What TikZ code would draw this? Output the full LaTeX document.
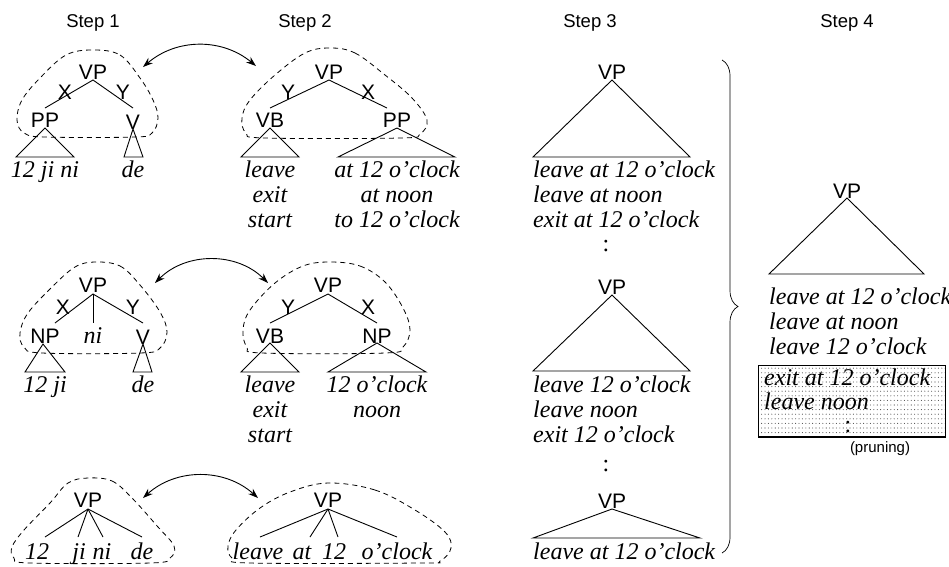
\documentclass[tikz,border=0pt]{standalone}
\usepackage{fontspec}
\setmainfont{Liberation Serif}
\setsansfont{Liberation Sans}
\usetikzlibrary{arrows.meta,decorations.pathreplacing,patterns}

% sparse dot screen for the pruned block
\pgfdeclarepatternformonly{prunedots}{\pgfpoint{-1pt}{-1pt}}{\pgfpoint{1pt}{1pt}}{\pgfpoint{3.4pt}{4.6pt}}{%
  \pgfpathcircle{\pgfpoint{0pt}{0pt}}{0.55pt}\pgfusepath{fill}}

\begin{document}
\begin{tikzpicture}[x=1pt,y=-1pt,
  cat/.style={font=\sffamily\fontsize{21}{21}\selectfont, inner sep=0pt},
  head/.style={font=\sffamily\fontsize{18.5}{19}\selectfont, inner sep=0pt},
  wd/.style={font=\itshape\fontsize{24}{25}\selectfont, inner sep=0pt, anchor=base},
  wdl/.style={wd, anchor=base west},
  dotsym/.style={font=\fontsize{24}{25}\selectfont, inner sep=0pt},
  edge/.style={line width=0.9pt},
  blob/.style={line width=0.8pt, dash pattern=on 5pt off 4pt},
  swap/.style={line width=0.9pt, {Stealth[length=10pt,width=7pt]}-{Stealth[length=10pt,width=7pt]}},
]
\useasboundingbox (0,0) rectangle (949,566);

% column headings
\node[head] (h1) at (93,23) {Step 1};
\node[head] (h2) at (305,23) {Step 2};
\node[head] (h3) at (590,23) {Step 3};
\node[head] (h4) at (847,23) {Step 4};

% ---------------- row 1, step 1 ----------------
\node[cat] (a1vp) at (93,72) {VP};
\node[cat] (a1x) at (65,92) {X};
\node[cat] (a1y) at (123,92) {Y};
\node[cat] (a1pp) at (45,120) {PP};
\node[cat] (a1v) at (133,122) {V};
\coordinate (a1t) at (93,80);
\coordinate (a1l) at (45,108);
\coordinate (a1r) at (133,108);
\draw[edge] (a1l) -- (a1t) -- (a1r);
\draw[edge] (45,128) -- (16,157) -- (74,157) -- cycle;
\draw[edge] (133,129) -- (124,157) -- (143,157) -- cycle;
\node[wd] (a1w1) at (45,177) {12 ji ni};
\node[wd] (a1w2) at (133,177) {de};
\draw[blob] plot[smooth cycle, tension=0.6] coordinates {(93,50) (120,55) (140,78) (153,100) (158,118) (152,133) (135,137) (45,137) (24,133) (17,120) (22,100) (40,78) (66,55)};

% ---------------- row 1, step 2 ----------------
\node[cat] (b1vp) at (329,72) {VP};
\node[cat] (b1y) at (288,92) {Y};
\node[cat] (b1x) at (368,92) {X};
\node[cat] (b1vb) at (270,120) {VB};
\node[cat] (b1pp) at (397,120) {PP};
\coordinate (b1t) at (329,80);
\coordinate (b1l) at (270,108);
\coordinate (b1r) at (387,108);
\draw[edge] (b1l) -- (b1t) -- (b1r);
\draw[edge] (270,128) -- (241,157) -- (299,157) -- cycle;
\draw[edge] (397,128) -- (338,157) -- (455,157) -- cycle;
\node[wd] (b1w1) at (270,177) {leave};
\node[wd] (b1w2) at (270,202) {exit};
\node[wd] (b1w3) at (270,227) {start};
\node[wd] (b1w4) at (397,177) {at 12 o’clock};
\node[wd] (b1w5) at (397,202) {at noon};
\node[wd] (b1w6) at (397,227) {to 12 o’clock};
\draw[blob] plot[smooth cycle, tension=0.6] coordinates {(330,48) (355,53) (385,75) (412,98) (427,120) (420,134) (400,138) (265,138) (246,133) (242,118) (250,100) (275,75) (305,53)};

\coordinate (s1l) at (143,67);
\coordinate (s1r) at (256,66);
\draw[swap] (s1l) to[bend left=40] (s1r);

% ---------------- row 2, step 1 ----------------
\node[cat] (a2vp) at (93,285) {VP};
\node[cat] (a2x) at (63,307) {X};
\node[cat] (a2y) at (133,307) {Y};
\node[cat] (a2np) at (45,336) {NP};
\node[wd] (a2ni) at (93,343) {ni};
\node[cat] (a2v) at (143,337) {V};
\coordinate (a2t) at (93,294);
\coordinate (a2l) at (55,323);
\coordinate (a2m) at (93,323);
\coordinate (a2r) at (143,323);
\draw[edge] (a2l) -- (a2t) -- (a2r);
\draw[edge] (a2t) -- (a2m);
\draw[edge] (43,344) -- (25,372) -- (65,372) -- cycle;
\draw[edge] (143,344) -- (133,372) -- (152,372) -- cycle;
\node[wd] (a2w1) at (45,392) {12 ji};
\node[wd] (a2w2) at (143,392) {de};
\draw[blob] plot[smooth cycle, tension=0.6] coordinates {(95,262) (120,266) (140,285) (160,312) (167,332) (160,348) (140,353) (42,353) (24,347) (20,333) (28,313) (52,287) (75,267)};

% ---------------- row 2, step 2 ----------------
\node[cat] (b2vp) at (328,285) {VP};
\node[cat] (b2y) at (288,307) {Y};
\node[cat] (b2x) at (368,307) {X};
\node[cat] (b2vb) at (270,336) {VB};
\node[cat] (b2np) at (377,336) {NP};
\coordinate (b2t) at (328,294);
\coordinate (b2l) at (270,323);
\coordinate (b2r) at (377,323);
\draw[edge] (b2l) -- (b2t) -- (b2r);
\draw[edge] (270,343) -- (241,372) -- (299,372) -- cycle;
\draw[edge] (377,343) -- (328,372) -- (426,372) -- cycle;
\node[wd] (b2w1) at (270,392) {leave};
\node[wd] (b2w2) at (270,417) {exit};
\node[wd] (b2w3) at (270,442) {start};
\node[wd] (b2w4) at (377,392) {12 o’clock};
\node[wd] (b2w5) at (377,417) {noon};
\draw[blob] plot[smooth cycle, tension=0.6] coordinates {(330,262) (360,266) (385,282) (403,308) (410,330) (403,347) (385,353) (262,353) (247,347) (243,330) (250,310) (275,283) (303,266)};

\coordinate (s2l) at (155,283);
\coordinate (s2r) at (268,283);
\draw[swap] (s2l) to[bend left=45] (s2r);

% ---------------- row 3, step 1 ----------------
\node[cat] (a3vp) at (88,500) {VP};
\coordinate (a3t) at (88,509);
\node[wd] (a3w1) at (37,559) {12};
\node[wd] (a3w2) at (79,559) {ji};
\node[wd] (a3w3) at (102,559) {ni};
\node[wd] (a3w4) at (142,559) {de};
\draw[edge] (a3t) -- (45,537);
\draw[edge] (a3t) -- (78,537);
\draw[edge] (a3t) -- (103,537);
\draw[edge] (a3t) -- (142,537);
\draw[blob] plot[smooth cycle, tension=0.6] coordinates {(88,478) (112,481) (132,498) (158,527) (174,546) (170,558) (150,563) (30,563) (14,558) (12,547) (24,530) (50,503) (68,483)};

% ---------------- row 3, step 2 ----------------
\node[cat] (b3vp) at (328,500) {VP};
\coordinate (b3t) at (328,509);
\node[wd] (b3w1) at (258,559) {leave};
\node[wd] (b3w2) at (302,559) {at};
\node[wd] (b3w3) at (334,559) {12};
\node[wd] (b3w4) at (397,559) {o’clock};
\draw[edge] (b3t) -- (260,537);
\draw[edge] (b3t) -- (310,537);
\draw[edge] (b3t) -- (338,537);
\draw[edge] (b3t) -- (397,537);
\draw[blob] plot[smooth cycle, tension=0.6] coordinates {(328,483) (375,490) (415,510) (445,532) (451,548) (440,561) (420,563) (250,563) (232,558) (228,546) (236,530) (260,508) (290,492)};

\coordinate (s3l) at (143,498);
\coordinate (s3r) at (258,498);
\draw[swap] (s3l) to[bend left=42] (s3r);

% ---------------- step 3 ----------------
\node[cat] (c1vp) at (612,72) {VP};
\draw[edge] (612,80) -- (533,157) -- (690,157) -- cycle;
\node[wdl] (c1w1) at (533,177) {leave at 12 o’clock};
\node[wdl] (c1w2) at (533,202) {leave at noon};
\node[wdl] (c1w3) at (533,227) {exit at 12 o’clock};
\node[dotsym] (c1d) at (606,246) {:};

\node[cat] (c2vp) at (612,287) {VP};
\draw[edge] (612,295) -- (533,371) -- (690,371) -- cycle;
\node[wdl] (c2w1) at (533,392) {leave 12 o’clock};
\node[wdl] (c2w2) at (533,417) {leave noon};
\node[wdl] (c2w3) at (533,442) {exit 12 o’clock};
\node[dotsym] (c2d) at (606,466) {:};

\node[cat] (c3vp) at (612,501) {VP};
\draw[edge] (612,509) -- (533,538) -- (700,538) -- cycle;
\node[wdl] (c3w1) at (533,559) {leave at 12 o’clock};

\coordinate (brt) at (722,60);
\coordinate (brb) at (722,553);
\draw[line width=0.7pt, decorate, decoration={brace, amplitude=16pt}] (brt) -- (brb);

% ---------------- step 4 ----------------
\node[cat] (d1vp) at (847,191) {VP};
\draw[edge] (847,198) -- (769,274) -- (924,274) -- cycle;
\node[wdl] (d1w1) at (769,304) {leave at 12 o’clock};
\node[wdl] (d1w2) at (769,329) {leave at noon};
\node[wdl] (d1w3) at (769,354) {leave 12 o’clock};

\fill[pattern=prunedots, pattern color=black!70] (758,365) rectangle (945,437);
\draw[line width=0.8pt] (758,365) rectangle (945,437);
\draw[line width=1.6pt] (758,437) -- (945,437);
\node[wdl] (d1w4) at (764,385) {exit at 12 o’clock};
\node[wdl] (d1w5) at (764,409) {leave noon};
\node[dotsym] (d1d) at (848,427) {:};
\node[font=\sffamily\fontsize{15}{15}\selectfont, inner sep=0pt] (prn) at (880,449) {(pruning)};
\end{tikzpicture}
\end{document}
